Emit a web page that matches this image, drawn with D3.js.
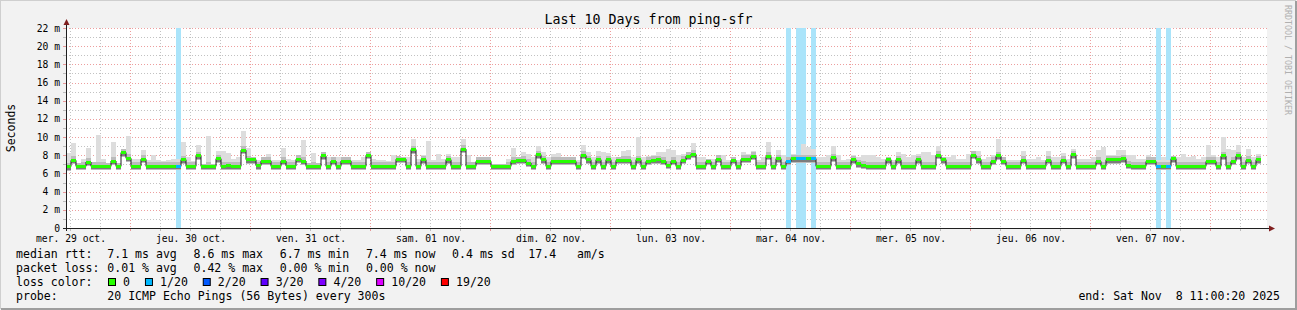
<!DOCTYPE html>
<html>
<head>
<meta charset="utf-8">
<script src="https://cdn.jsdelivr.net/npm/d3@7"></script>
<style>
  body { margin: 0; background: #f2f2f2; }
  text { font-family: "DejaVu Sans Mono", monospace; white-space: pre; }
</style>
</head>
<body>
<svg id="chart" width="1297" height="310"></svg>
<script>
// day labels under the x axis (one per day, centred at noon)
const dayLabels = ["mer. 29 oct.", "jeu. 30 oct.", "ven. 31 oct.", "sam. 01 nov.", "dim. 02 nov.",
                   "lun. 03 nov.", "mar. 04 nov.", "mer. 05 nov.", "jeu. 06 nov.", "ven. 07 nov."];

// hourly median rtt in ms, from 29 oct 11:00 (last hour not yet filled)
const median = [
  6.76, 7.44, 6.78, 6.78, 7.26, 6.78, 6.81, 6.78, 6.78, 7.37,
  6.78, 8.30, 7.67, 6.81, 6.81, 7.56, 6.78, 6.78, 6.78, 6.78,
  6.78, 6.78, 6.78, 7.52, 6.78, 6.78, 7.93, 6.78, 6.78, 6.78,
  7.63, 6.78, 6.85, 6.78, 6.78, 8.56, 7.52, 7.52, 6.85, 7.37,
  7.37, 6.78, 6.78, 7.37, 6.81, 6.81, 7.56, 7.37, 6.78, 6.78,
  6.78, 7.93, 6.78, 7.37, 6.78, 7.37, 7.37, 6.78, 6.78, 6.78,
  8.00, 6.78, 6.78, 6.78, 6.78, 6.78, 7.56, 7.56, 6.78, 8.63,
  6.78, 7.52, 6.78, 6.78, 6.78, 6.78, 7.52, 6.78, 6.78, 8.67,
  6.78, 6.78, 7.33, 7.33, 7.33, 6.78, 6.78, 6.78, 6.78, 7.33,
  7.44, 7.44, 7.15, 6.78, 8.07, 7.52, 6.78, 7.33, 7.33, 7.33,
  7.33, 7.33, 6.78, 8.00, 7.52, 6.78, 7.52, 6.78, 7.52, 6.78,
  7.44, 7.44, 7.44, 6.78, 7.52, 6.78, 7.33, 7.44, 7.52, 7.33,
  6.89, 7.33, 6.78, 7.44, 7.89, 8.11, 6.78, 6.78, 7.33, 6.78,
  7.56, 6.78, 6.78, 7.44, 6.78, 7.56, 7.56, 7.89, 6.78, 6.78,
  7.89, 6.78, 7.63, 6.78, 7.33, 7.63, 7.63, 7.63, 7.63, 7.63,
  6.78, 6.78, 6.78, 7.74, 6.78, 6.78, 6.78, 7.52, 7.07, 6.89,
  6.78, 6.78, 6.78, 6.78, 7.52, 6.78, 7.52, 6.78, 6.78, 6.78,
  7.52, 6.78, 6.78, 6.78, 8.00, 7.52, 6.78, 6.78, 6.78, 6.78,
  6.78, 8.00, 7.52, 6.78, 6.78, 7.33, 7.93, 7.33, 6.78, 6.78,
  6.78, 7.44, 6.78, 6.78, 6.78, 6.78, 7.44, 6.78, 6.78, 7.44,
  6.78, 8.07, 6.78, 6.78, 6.78, 6.78, 7.33, 6.78, 7.52, 7.52,
  7.52, 7.63, 6.89, 6.78, 6.78, 6.78, 7.33, 7.33, 6.78, 6.78,
  6.78, 7.63, 6.78, 6.78, 6.78, 6.78, 6.78, 6.78, 7.33, 7.33,
  6.78, 7.93, 6.78, 7.33, 7.93, 6.78, 7.44, 6.78, 7.52, null
];

// top of the smoke (slowest pings) per hour, ms
const smokeTop = [
  8.20, 9.30, 7.15, 7.63, 8.85, 7.26, 10.26, 7.63, 7.15, 9.41,
  7.20, 8.74, 10.15, 7.63, 7.63, 8.63, 7.52, 8.07, 7.52, 7.33,
  7.44, 7.63, 7.63, 9.41, 7.81, 7.33, 9.11, 7.07, 10.11, 7.07,
  8.48, 8.44, 8.26, 7.63, 7.81, 10.67, 8.85, 7.81, 7.52, 7.81,
  8.11, 7.52, 7.52, 8.85, 7.63, 7.52, 8.00, 9.67, 7.15, 8.26,
  7.15, 8.37, 7.81, 7.81, 7.81, 7.81, 7.81, 7.44, 7.44, 7.81,
  8.37, 7.63, 7.52, 7.44, 7.33, 8.07, 7.93, 7.81, 7.81, 9.74,
  7.63, 8.00, 9.59, 7.52, 8.19, 7.63, 8.19, 7.81, 7.81, 9.74,
  8.00, 7.26, 7.81, 7.81, 7.81, 7.07, 7.07, 7.07, 7.63, 8.85,
  7.81, 8.37, 8.19, 7.81, 9.00, 8.37, 7.81, 8.19, 8.26, 7.81,
  7.81, 7.81, 7.44, 9.11, 8.37, 7.81, 8.48, 8.37, 8.26, 7.81,
  7.81, 8.44, 8.63, 7.81, 10.04, 7.81, 7.89, 8.00, 8.37, 8.37,
  8.74, 8.56, 8.00, 8.19, 8.37, 9.30, 7.81, 7.81, 7.63, 7.63,
  8.00, 8.00, 7.44, 7.81, 7.52, 8.37, 8.19, 8.48, 7.44, 7.81,
  9.48, 7.81, 8.63, 8.00, 7.81, 8.19, 8.00, 9.22, 8.93, 8.74,
  7.81, 7.81, 8.00, 9.00, 8.00, 7.44, 7.63, 8.00, 7.81, 8.00,
  8.00, 8.00, 7.81, 7.63, 7.81, 7.44, 8.37, 8.19, 7.81, 8.00,
  8.19, 8.37, 8.37, 8.00, 9.00, 7.81, 7.81, 8.00, 7.63, 7.63,
  8.19, 8.48, 8.48, 7.63, 7.81, 8.00, 9.78, 7.81, 7.44, 7.44,
  7.44, 8.48, 7.63, 7.63, 7.81, 7.52, 8.48, 7.81, 7.81, 8.26,
  7.63, 8.74, 7.63, 7.63, 7.63, 7.81, 8.56, 8.93, 8.00, 8.00,
  8.56, 8.63, 8.00, 8.00, 7.63, 7.63, 8.00, 7.81, 7.44, 7.81,
  7.44, 7.89, 7.81, 8.19, 7.81, 7.89, 7.63, 7.81, 9.11, 8.00,
  7.81, 10.04, 8.74, 8.63, 9.11, 7.81, 8.74, 7.81, 8.19, null
];

// hours with lost pings (index into the arrays above) and how many of 20 were lost
const lossSteps = [22, 144, 146, 147, 149, 218, 220];
const lossCount = [1, 1, 1, 1, 1, 1, 1];

// loss colour legend
const lossLevels = [0, 1, 2, 3, 4, 10, 19];
const lossLabels = ["0", "1/20", "2/20", "3/20", "4/20", "10/20", "19/20"];
const lossColors = ["#26ff00", "#00b8ff", "#0059ff", "#5e00ff", "#7e00ff", "#dd00ff", "#ff0000"];
const lossBgColors = ["#c8ffbd", "#aae4fa", "#a8c4ff", "#c9a8ff", "#d6a8ff", "#f3a8ff", "#ffa8a8"];

// legend texts
const rttStats = ["7.1 ms avg", "8.6 ms max", "6.7 ms min", "7.4 ms now", "0.4 ms sd", "17.4   am/s"];
const lossStats = ["0.01 % avg", "0.42 % max", "0.00 % min", "0.00 % now"];
const probeText = "20 ICMP Echo Pings (56 Bytes) every 300s";
const endText = "end: Sat Nov  8 11:00:20 2025";

const svg = d3.select("#chart");
const HOUR = 3600e3;
const start = Date.UTC(2025, 9, 29, 11), end = Date.UTC(2025, 10, 8, 11);

const x = d3.scaleUtc().domain([start, end]).range([66, 1266]);
const y = d3.scaleLinear().domain([0, 22]).range([228, 28]);
const px = v => Math.round(v) - 0.5;   // crisp vertical lines
const py = v => Math.round(v) + 0.5;   // crisp horizontal lines

// frame + canvas
svg.append("rect").attr("width", 1297).attr("height", 310).attr("fill", "#f2f2f2");
svg.append("path").attr("d", "M0,309V0H1296").attr("fill", "none").attr("stroke", "#cfcfcf").attr("stroke-width", 2);
svg.append("path").attr("d", "M1,309H1296V1").attr("fill", "none").attr("stroke", "#9e9e9e").attr("stroke-width", 2);
svg.append("rect").attr("x", 66).attr("y", 28).attr("width", 1201).attr("height", 200).attr("fill", "#fff");

// grid
const grid = svg.append("g").attr("shape-rendering", "crispEdges");
const minorCol = "rgba(143,143,143,0.55)", majorCol = "rgba(222,79,79,0.55)";

d3.range(0, 23).forEach(v => {
  const col = v % 2 === 0 ? majorCol : minorCol;
  if (v > 0) {
    grid.append("line").attr("x1", 66).attr("x2", 1267).attr("y1", py(y(v))).attr("y2", py(y(v)))
      .attr("stroke", col).attr("stroke-dasharray", "1,2");
  }
  grid.append("line").attr("x1", 63).attr("x2", 66).attr("y1", py(y(v))).attr("y2", py(y(v))).attr("stroke", col);
});

x.ticks(d3.utcHour.every(6)).filter(t => +t > start).forEach(t => {
  const col = t.getUTCHours() === 0 ? majorCol : minorCol;
  grid.append("line").attr("x1", px(x(t))).attr("x2", px(x(t))).attr("y1", 28).attr("y2", 228)
    .attr("stroke", col).attr("stroke-dasharray", "1,2");
  grid.append("line").attr("x1", px(x(t))).attr("x2", px(x(t))).attr("y1", 229).attr("y2", 231).attr("stroke", col);
});

// steps
const steps = median.map((m, i) => ({ t: start + i * HOUR, m: m, top: smokeTop[i], loss: 0 }));
lossSteps.forEach((s, k) => steps[s].loss = lossCount[k]);
const lossIdx = n => d3.bisectRight(lossLevels, n) - 1;
const sx = d => x(d.t), sw = d => x(d.t + HOUR) - x(d.t);
const valid = steps.filter(d => d.m != null);

// loss background bars
svg.append("g").attr("shape-rendering", "crispEdges")
  .selectAll("rect").data(valid.filter(d => d.loss > 0)).join("rect")
  .attr("x", sx).attr("width", sw).attr("y", 28).attr("height", 200)
  .attr("fill", d => lossBgColors[lossIdx(d.loss)]);

// smoke
const smoke = svg.append("g").attr("shape-rendering", "crispEdges");
smoke.selectAll(".s1").data(valid).join("rect")
  .attr("x", sx).attr("width", sw)
  .attr("y", d => y(d.top)).attr("height", d => y(d.m) + 4 - y(d.top))
  .attr("fill", "#dddddd");
smoke.selectAll(".s2").data(valid).join("rect")
  .attr("x", sx).attr("width", sw)
  .attr("y", d => Math.max(y(d.top), y(d.m) - 4)).attr("height", d => y(d.m) + 4 - Math.max(y(d.top), y(d.m) - 4))
  .attr("fill", "#bcbcbc");
smoke.selectAll(".s3").data(valid).join("rect")
  .attr("x", sx).attr("width", sw)
  .attr("y", d => y(d.m) + 1).attr("height", 2)
  .attr("fill", "#7c7c7c");

// median line
const lineData = valid.map(d => [x(d.t), y(d.m)]);
const last = valid[valid.length - 1];
lineData.push([x(last.t + HOUR), y(last.m)]);
svg.append("path")
  .attr("d", d3.line().curve(d3.curveStepAfter)(lineData))
  .attr("fill", "none").attr("stroke", "#202020").attr("stroke-width", 1);

// median band coloured by loss
svg.append("g").attr("shape-rendering", "crispEdges")
  .selectAll("rect").data(valid).join("rect")
  .attr("x", sx).attr("width", sw)
  .attr("y", d => y(d.m) - 1.5).attr("height", 3)
  .attr("fill", d => lossColors[lossIdx(d.loss)]);

// axes
svg.append("line").attr("x1", 63).attr("x2", 1270).attr("y1", 228.5).attr("y2", 228.5).attr("stroke", "#1f1f1f");
svg.append("line").attr("x1", 66.5).attr("x2", 66.5).attr("y1", 231).attr("y2", 24).attr("stroke", "#1f1f1f");
svg.append("path").attr("d", "M1269,225.5L1275,228.5L1269,231.5Z").attr("fill", "#801f1f");
svg.append("path").attr("d", "M63.5,25L66.5,19L69.5,25Z").attr("fill", "#801f1f");

// y labels
svg.append("g").selectAll("text").data(d3.range(0, 23, 2)).join("text")
  .attr("x", 60).attr("y", v => y(v) + 3.5).attr("text-anchor", "end")
  .attr("font-size", "9.7px").attr("fill", "#000")
  .text(v => v === 0 ? "0" : v + " m");

// x labels
svg.append("g").selectAll("text").data(dayLabels).join("text")
  .attr("x", (d, i) => x(start + (i * 24 + 1) * HOUR)).attr("y", 242)
  .attr("text-anchor", "middle").attr("font-size", "9.7px").attr("fill", "#000")
  .text(d => d);

// title, axis title, watermark
svg.append("text").attr("x", 648.5).attr("y", 24).attr("text-anchor", "middle")
  .attr("font-size", "13.3px").text("Last 10 Days from ping-sfr");
svg.append("text").attr("transform", "translate(14.5,128) rotate(-90)").attr("text-anchor", "middle")
  .attr("font-size", "11.5px").text("Seconds");
svg.append("text").attr("transform", "translate(1285,5) rotate(90)")
  .attr("font-size", "8.3px").attr("fill", "#b0b0b0").text("RRDTOOL / TOBI OETIKER");

// legend
const leg = svg.append("g").attr("font-size", "11.55px").attr("fill", "#000");
const col0 = 16, col1 = 107.3, colStep = 86.2;
leg.append("text").attr("x", col0).attr("y", 258).text("median rtt:");
rttStats.forEach((s, i) => leg.append("text").attr("x", col1 + i * colStep - (i === 5 ? 10 : 0)).attr("y", 258).text(s));
leg.append("text").attr("x", col0).attr("y", 272).text("packet loss:");
lossStats.forEach((s, i) => leg.append("text").attr("x", col1 + i * colStep).attr("y", 272).text(s));
leg.append("text").attr("x", col0).attr("y", 286).text("loss color:");
let bx = 108.5;
lossLabels.forEach((s, i) => {
  leg.append("rect").attr("x", bx).attr("y", 278.5).attr("width", 7).attr("height", 7)
    .attr("fill", lossColors[i]).attr("stroke", "#000").attr("stroke-width", 1);
  leg.append("text").attr("x", bx + 14.6).attr("y", 286).text(s);
  bx += 14.6 + s.length * 6.95 + 15.4;
});
leg.append("text").attr("x", col0).attr("y", 300).text("probe:");
leg.append("text").attr("x", col1).attr("y", 300).text(probeText);
leg.append("text").attr("x", 1280).attr("y", 300).attr("text-anchor", "end").text(endText);
</script>
</body>
</html>
